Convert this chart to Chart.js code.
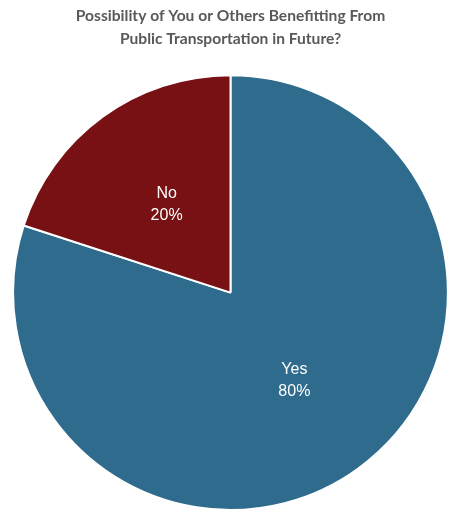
<!DOCTYPE html>
<html>
<head>
<meta charset="utf-8">
<script src="https://cdn.jsdelivr.net/npm/chart.js@4"></script>
<style>
  html, body { margin: 0; padding: 0; background: #fff; }
  #wrap { width: 449px; height: 511px; }
</style>
</head>
<body>
<div id="wrap"><canvas id="myChart"></canvas></div>
<script>
  const labels = ['Yes', 'No'];
  const values = [80, 20];
  const colors = ['#2E6B8D', '#771113'];

  // write "label + percent" inside each slice
  const sliceLabels = {
    id: 'sliceLabels',
    afterDatasetsDraw(chart) {
      const ctx = chart.ctx;
      const meta = chart.getDatasetMeta(0);
      const total = values.reduce((a, b) => a + b, 0);
      ctx.save();
      ctx.fillStyle = '#ffffff';
      ctx.font = '16px "Liberation Sans", Arial, sans-serif';
      ctx.textAlign = 'center';
      ctx.textBaseline = 'middle';
      meta.data.forEach((arc, i) => {
        const p = arc.tooltipPosition();
        const pct = Math.round(values[i] * 100 / total) + '%';
        ctx.fillText(labels[i], p.x, p.y - 11);
        ctx.fillText(pct, p.x, p.y + 11);
      });
      ctx.restore();
    }
  };

  const data = {
    labels: labels,
    datasets: [{
      data: values,
      backgroundColor: colors,
      borderColor: '#ffffff',
      borderWidth: 2,
    }]
  };

  const config = {
    type: 'pie',
    data: data,
    options: {
      responsive: true,
      maintainAspectRatio: false,
      animation: false,
      layout: {
        padding: { left: 12, right: 0, top: 0, bottom: 0 }
      },
      plugins: {
        legend: { display: false },
        tooltip: { enabled: false },
        title: {
          display: true,
          text: ['Possibility of You or Others Benefitting From', 'Public Transportation in Future?'],
          color: '#595959',
          font: { family: 'Lato', size: 15.6, weight: 'bold', lineHeight: 1.45 },
          padding: { top: 5, bottom: 24 },
        },
      },
    },
    plugins: [sliceLabels],
  };

  const myChart = new Chart(document.getElementById('myChart'), config);
</script>
</body>
</html>
